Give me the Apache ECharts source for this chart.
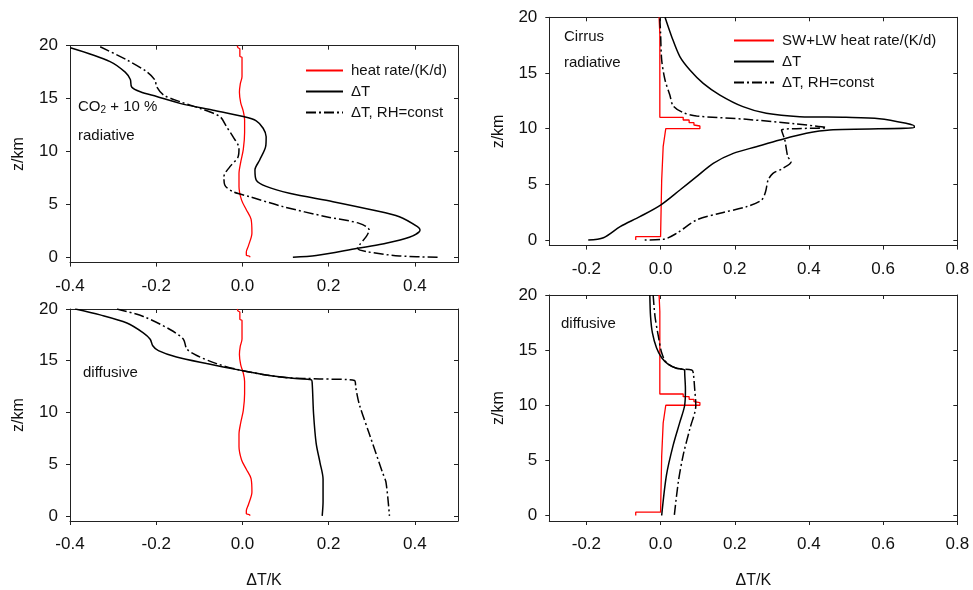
<!DOCTYPE html>
<html>
<head>
<meta charset="utf-8">
<script src="https://cdn.jsdelivr.net/npm/echarts@6/dist/echarts.min.js"></script>
<style>
html,body{margin:0;padding:0;background:#fff;}
#c{width:973px;height:590px;}
</style>
</head>
<body>
<div id="c"></div>
<script>
// ---- data: [ΔT (K) or heat rate (K/d), z (km)] ----
const zTicks = [0, 5, 10, 15, 20];
const xTicksLeft = [-0.4, -0.2, 0.0, 0.2, 0.4];
const xTicksRight = [-0.2, 0.0, 0.2, 0.4, 0.6, 0.8];

const co2Heat = [[-0.012,20],[-0.010,19.8],[-0.006,19.7],[-0.006,19.0],[-0.001,18.9],[-0.001,17.1],[-0.005,16.4],[-0.007,15.6],[-0.004,14.6],[0.002,13.8],[0.005,13.0],[0.005,11.8],[0.002,10.2],[-0.004,9.0],[-0.008,7.9],[-0.008,6.7],[-0.002,5.4],[0.009,4.5],[0.020,3.6],[0.022,2.3],[0.014,1.1],[0.009,0.5],[0.009,0.2],[0.017,0.1],[0.017,0]];

const co2RadDT = [[-0.399,19.8],[-0.307,18.5],[-0.272,17.5],[-0.260,16.8],[-0.257,16.1],[-0.237,15.65],[-0.199,15.2],[-0.145,14.55],[-0.068,13.9],[0.002,13.3],[0.032,12.9],[0.048,12.2],[0.055,11.4],[0.054,10.5],[0.040,9.2],[0.029,8.25],[0.032,7.3],[0.055,6.7],[0.109,6.05],[0.210,5.26],[0.302,4.47],[0.364,3.84],[0.406,2.9],[0.412,2.58],[0.387,1.89],[0.325,1.26],[0.267,0.85],[0.171,0.16],[0.117,0]];

const co2RadDTrh = [[-0.330,19.9],[-0.268,18.65],[-0.222,17.54],[-0.203,16.76],[-0.199,16.13],[-0.183,15.34],[-0.145,14.71],[-0.099,14.08],[-0.052,13.29],[-0.037,12.35],[-0.022,11.4],[-0.008,10.3],[-0.010,9.51],[-0.029,8.57],[-0.043,7.62],[-0.041,6.83],[-0.022,6.2],[0.017,5.73],[0.094,4.79],[0.194,3.84],[0.271,3.21],[0.294,2.58],[0.287,1.95],[0.272,1.2],[0.267,0.85],[0.287,0.54],[0.364,0.13],[0.456,0]];

const co2DiffDT = [[-0.388,20],[-0.330,19.43],[-0.268,18.65],[-0.230,17.7],[-0.214,17.08],[-0.208,16.45],[-0.195,15.97],[-0.153,15.35],[-0.083,14.72],[-0.006,14.09],[0.055,13.62],[0.117,13.3],[0.160,13.14],[0.162,12.67],[0.165,9.84],[0.171,7.01],[0.180,5.13],[0.187,3.55],[0.187,1.35],[0.185,0]];

const co2DiffDTrh = [[-0.291,20],[-0.230,19.28],[-0.168,18.02],[-0.137,17.08],[-0.129,16.13],[-0.106,15.5],[-0.060,14.72],[-0.006,14.09],[0.055,13.62],[0.102,13.36],[0.179,13.24],[0.260,13.08],[0.263,12.36],[0.271,10.79],[0.294,7.96],[0.325,4.18],[0.333,3.24],[0.341,0]];

const cirHeat = [[-0.004,20],[-0.002,18.5],[-0.002,11.02],[0.061,11.02],[0.061,10.78],[0.077,10.78],[0.077,10.54],[0.090,10.54],[0.090,10.33],[0.106,10.24],[0.106,10.0],[0.014,10.0],[0.007,8.38],[0.003,5.39],[0.0,0.3],[-0.067,0.3],[-0.067,0]];

const cirRadDT = [[0.012,20],[0.030,18.26],[0.052,16.47],[0.079,15.27],[0.115,14.07],[0.160,13.02],[0.222,11.98],[0.285,11.38],[0.375,11.08],[0.500,11.02],[0.590,10.9],[0.662,10.48],[0.684,10.24],[0.684,10.09],[0.456,9.88],[0.393,9.58],[0.321,8.98],[0.258,8.38],[0.196,7.78],[0.142,6.89],[0.097,5.69],[0.052,4.49],[0.0,3.14],[-0.056,2.1],[-0.109,1.2],[-0.154,0.21],[-0.195,0]];

const cirRadDTrh = [[-0.002,19.9],[0.0,18.56],[0.003,16.17],[0.012,14.37],[0.025,13.02],[0.034,12.04],[0.061,11.44],[0.097,11.14],[0.231,10.84],[0.366,10.42],[0.447,10.09],[0.366,10.0],[0.326,9.88],[0.335,8.98],[0.343,7.49],[0.352,7.04],[0.330,6.44],[0.303,5.99],[0.290,5.39],[0.283,4.34],[0.272,3.59],[0.231,2.99],[0.160,2.4],[0.097,1.8],[0.043,0.6],[0.007,0.06],[-0.047,0]];

const cirDiffDT = [[-0.029,20],[-0.027,18.05],[-0.022,16.56],[-0.011,15.21],[0.003,14.31],[0.021,13.71],[0.043,13.35],[0.065,13.2],[0.065,13.1],[0.067,11.47],[0.065,10.0],[0.052,8.47],[0.034,6.38],[0.016,3.68],[0.003,0]];

const cirDiffDTrh = [[-0.020,20],[-0.015,18.05],[-0.006,16.26],[0.003,14.76],[0.016,13.86],[0.043,13.35],[0.084,13.2],[0.088,12.96],[0.092,11.47],[0.095,10.0],[0.079,7.87],[0.061,5.48],[0.048,3.08],[0.037,0]];

// ---- chart ----
const FONT = '"Liberation Sans", Arial, sans-serif';
const DASHDOT = [10, 3, 2, 3];
const grids = [
  {left: 70, top: 45.7, width: 388, height: 216.9},
  {left: 549.3, top: 17.3, width: 408, height: 228.3},
  {left: 70, top: 309, width: 388, height: 217.3},
  {left: 549.3, top: 295, width: 408, height: 228.3}
];
const xRanges = [[-0.4, 0.5], [-0.3, 0.8], [-0.4, 0.5], [-0.3, 0.8]];
const xTickSets = [xTicksLeft, xTicksRight, xTicksLeft, xTicksRight];

const xAxes = [], yAxes = [];
grids.forEach((g, i) => {
  const common = {
    type: 'value', gridIndex: i, min: xRanges[i][0], max: xRanges[i][1],
    splitLine: {show: false},
    axisLine: {onZero: false, lineStyle: {color: '#222', width: 1}}
  };
  xAxes.push(Object.assign({}, common, {
    position: 'bottom',
    axisTick: {show: true, inside: false, length: 4, customValues: xTickSets[i], lineStyle: {color: '#222'}},
    axisLabel: {show: true, customValues: xTickSets[i], margin: 15, fontSize: 17, color: '#111', fontFamily: FONT,
      formatter: v => v.toFixed(1)},
    name: i >= 2 ? 'ΔT/K' : '', nameLocation: 'middle', nameGap: 52,
    nameTextStyle: {fontSize: 16, color: '#111', fontFamily: FONT}
  }));
  xAxes.push(Object.assign({}, common, {
    position: 'top',
    axisTick: {show: true, inside: true, length: 4, customValues: xTickSets[i], lineStyle: {color: '#222'}},
    axisLabel: {show: false}
  }));
  const ycommon = {
    type: 'value', gridIndex: i, min: -0.5, max: 20,
    splitLine: {show: false},
    axisLine: {onZero: false, lineStyle: {color: '#222', width: 1}}
  };
  yAxes.push(Object.assign({}, ycommon, {
    position: 'left',
    axisTick: {show: true, inside: false, length: 4, customValues: zTicks, lineStyle: {color: '#222'}},
    axisLabel: {show: true, customValues: zTicks, margin: 12, fontSize: 17, color: '#111', fontFamily: FONT},
    name: 'z/km', nameLocation: 'middle', nameGap: 43, nameRotate: 90,
    nameTextStyle: {fontSize: 16, color: '#111', fontFamily: FONT}
  }));
  yAxes.push(Object.assign({}, ycommon, {
    position: 'right',
    axisTick: {show: true, inside: true, length: 4, customValues: zTicks, lineStyle: {color: '#222'}},
    axisLabel: {show: false}
  }));
});

function red(name, data, i, smooth) {
  return {type: 'line', name, data, xAxisIndex: 2 * i, yAxisIndex: 2 * i, symbol: 'none', showSymbol: false,
    smooth: smooth ? 0.3 : false,
    lineStyle: {color: '#ff0000', width: 1.3}, itemStyle: {color: '#ff0000'}, z: 2, animation: false};
}
function blk(name, data, i, dashed) {
  return {type: 'line', name, data, xAxisIndex: 2 * i, yAxisIndex: 2 * i, symbol: 'none', showSymbol: false,
    smooth: 0.3,
    lineStyle: {color: '#000', width: 1.5, type: dashed ? DASHDOT : 'solid'}, itemStyle: {color: '#000'},
    z: 3, animation: false};
}

const series = [
  red('heat rate/(K/d)', co2Heat, 0, true),
  blk('ΔT', co2RadDT, 0, false),
  blk('ΔT, RH=const', co2RadDTrh, 0, true),
  red('SW+LW heat rate/(K/d)', cirHeat, 1, false),
  blk('ΔT', cirRadDT, 1, false),
  blk('ΔT, RH=const', cirRadDTrh, 1, true),
  red('heat rate/(K/d)', co2Heat, 2, true),
  blk('ΔT', co2DiffDT, 2, false),
  blk('ΔT, RH=const', co2DiffDTrh, 2, true),
  red('SW+LW heat rate/(K/d)', cirHeat, 3, false),
  blk('ΔT', cirDiffDT, 3, false),
  blk('ΔT, RH=const', cirDiffDTrh, 3, true)
];

const legendCommon = {orient: 'vertical', itemHeight: 14, itemGap: 6, padding: 0, selectedMode: false,
  itemStyle: {opacity: 0, borderWidth: 0},
  textStyle: {fontSize: 15, color: '#111', fontFamily: FONT, padding: [0, 0, 0, 3]}};

const annot = (x, y, text, extra) => ({type: 'text', left: x, top: y,
  style: Object.assign({text, fontSize: 15, fill: '#111', fontFamily: FONT}, extra || {})});

const option = {
  backgroundColor: '#fff',
  animation: false,
  grid: grids,
  xAxis: xAxes,
  yAxis: yAxes,
  legend: [
    Object.assign({}, legendCommon, {left: 305, top: 63, itemWidth: 37,
      data: ['heat rate/(K/d)', 'ΔT', 'ΔT, RH=const']}),
    Object.assign({}, legendCommon, {left: 733, top: 33, itemWidth: 40,
      data: ['SW+LW heat rate/(K/d)', 'ΔT', 'ΔT, RH=const']})
  ],
  graphic: [
    annot(78, 99, '{a|CO}{s|2}{a| + 10 %}', {rich: {a: {fontSize: 15, fontFamily: FONT, fill: '#111'},
      s: {fontSize: 10, fontFamily: FONT, fill: '#111', padding: [8, 0, 0, 0]}}}),
    annot(78, 128, 'radiative'),
    annot(564, 29, 'Cirrus'),
    annot(564, 55, 'radiative'),
    annot(83, 365, 'diffusive'),
    annot(561, 316, 'diffusive')
  ],
  series
};

const chart = echarts.init(document.getElementById('c'), null, {renderer: 'canvas'});
chart.setOption(option);
</script>
</body>
</html>
